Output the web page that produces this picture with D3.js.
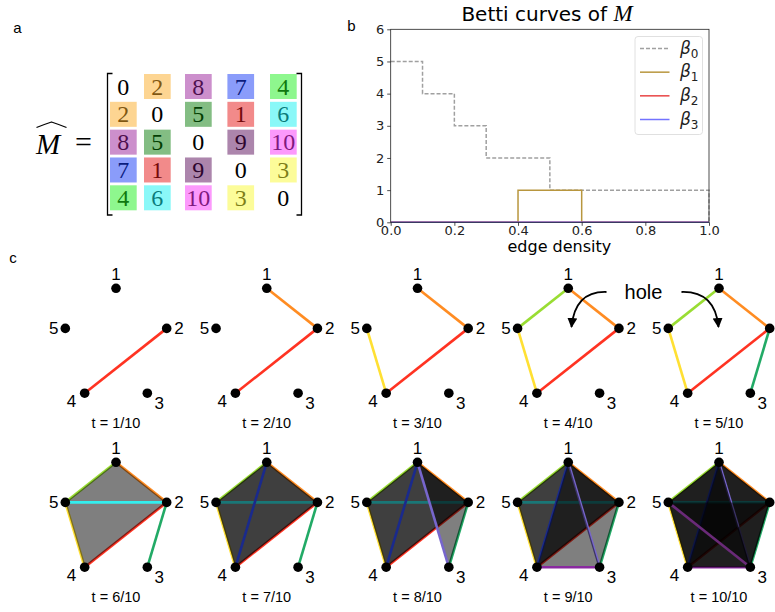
<!DOCTYPE html>
<html><head><meta charset="utf-8">
<script src="https://cdn.jsdelivr.net/npm/d3@7"></script>
<style>body{margin:0;background:#fff}</style>
</head><body>
<svg id="c" width="775" height="612" xmlns="http://www.w3.org/2000/svg"></svg>
<script>
// ---------- data ----------
const matrix = [
  [0, 2, 8, 7, 4],
  [2, 0, 5, 1, 6],
  [8, 5, 0, 9, 10],
  [7, 1, 9, 0, 3],
  [4, 6, 10, 3, 0]
];
const weights = [1,2,3,4,5,6,7,8,9,10];
const cellColors = ['#e51515','#fbab25','#f9f933','#1def1d','#077b07','#15f1f1','#1539f5','#991f99','#5a0b5a','#f933f9'];
const edgeColors = ['#ff3322','#ff8c22','#ffe033','#99dd33','#22aa66','#33eeee','#1a2a8c','#7766cc','#8a2aa0','#6a2a78'];

const density = [0,0.1,0.2,0.3,0.4,0.5,0.6,0.7,0.8,0.9,1.0];
const beta0 = [5,4,3,2,2,1,1,1,1,1,0];
const beta1 = [0,0,0,0,1,1,0,0,0,0,0];
const beta2 = [0,0,0,0,0,0,0,0,0,0,0];
const beta3 = [0,0,0,0,0,0,0,0,0,0,0];
const betaNames = ['0','1','2','3'];
const betaColors = ['#a0a0a0','#b8963e','#e84444','#7373ff'];
const xTicks = [0,0.2,0.4,0.6,0.8,1.0];
const yTicks = [0,1,2,3,4,5,6];

const nodeIds = [1,2,3,4,5];
const nodeAngles = [90,18,-54,-126,162];
const faces = [[1,2,5],[2,4,5],[1,2,4],[1,4,5],[1,2,3],[1,3,4],[1,3,5],[2,3,5],[3,4,5],[2,3,4]];
const faceBirth = [6,6,7,7,8,9,10,10,10,10];
const steps = [1,2,3,4,5,6,7,8,9,10];

const svg = d3.select('#c');
const SANS = 'Liberation Sans, Arial, Helvetica, sans-serif';
const DJ = 'DejaVu Sans, sans-serif';
const SERIF = 'Liberation Serif, Times New Roman, serif';

// panel letters
[['a',17.5,27],['b',351.5,25],['c',13,257]].forEach(([s,x,y])=>{
  svg.append('text').attr('x',x).attr('y',y).attr('text-anchor','middle')
    .attr('dominant-baseline','central').attr('font-family',SANS).attr('font-size',15).text(s);
});

// ---------- panel a: matrix ----------
const colX = d3.scaleOrdinal().domain([0,1,2,3,4]).range([123.3,157.3,198.3,240.7,283.3]);
const rowY = d3.scaleLinear().domain([0,4]).range([86.5,197.8]);
const colorOf = d3.scaleOrdinal().domain(weights).range(cellColors);
const ga = svg.append('g');
matrix.forEach((row,i)=>row.forEach((v,j)=>{
  ga.append('text').attr('x',colX(j)).attr('y',rowY(i)+8).attr('text-anchor','middle')
    .attr('font-family',SERIF).attr('font-size',24).attr('fill','#000').text(v);
  if(v>0){
    ga.append('rect').attr('x',colX(j)-13.3).attr('y',rowY(i)-12.5).attr('width',26.7).attr('height',25)
      .attr('fill',colorOf(v)).attr('fill-opacity',0.5);
  }
}));
// brackets
ga.append('path').attr('d','M112.5,73.5 H107.5 V215 H112.5').attr('fill','none').attr('stroke','#000').attr('stroke-width',1.3);
ga.append('path').attr('d','M296.5,73.5 H301.5 V215 H296.5').attr('fill','none').attr('stroke','#000').attr('stroke-width',1.3);
// M-hat =
ga.append('text').attr('x',48).attr('y',153.5).attr('text-anchor','middle').attr('font-family',SERIF)
  .attr('font-style','italic').attr('font-size',29).text('M');
ga.append('path').attr('d','M36.5,127.5 Q44,124.5 51.5,122 Q59,124.5 66.5,127.5').attr('fill','none').attr('stroke','#000').attr('stroke-width',1.2);
ga.append('text').attr('x',83.5).attr('y',152).attr('text-anchor','middle').attr('font-family',SERIF)
  .attr('font-size',30).text('=');

// ---------- panel b: Betti curves ----------
const x = d3.scaleLinear().domain([0,1]).range([390.7,709]);
const y = d3.scaleLinear().domain([0,6]).range([222.3,29.3]);
const gb = svg.append('g');
const line = d3.line().x((d,i)=>x(density[i])).y(d=>y(d)).curve(d3.curveStepAfter);
[beta0,beta1,beta2,beta3].forEach((b,k)=>{
  gb.append('path').attr('d',line(b)).attr('fill','none').attr('stroke',betaColors[k])
    .attr('stroke-width',1.5).attr('stroke-dasharray',k===0?'4,2':null);
});
const xAxis = gb.append('g').attr('transform',`translate(0,${y(0)})`)
  .call(d3.axisBottom(x).tickValues(xTicks).tickFormat(d3.format('.1f')).tickSize(3.5).tickPadding(0));
const yAxis = gb.append('g').attr('transform',`translate(${x(0)},0)`)
  .call(d3.axisLeft(y).tickValues(yTicks).tickFormat(d3.format('d')).tickSize(3.5).tickPadding(3));
[xAxis,yAxis].forEach(a=>{
  a.select('.domain').remove();
  a.selectAll('text').attr('font-family',DJ).attr('font-size',13).attr('fill','#222');
  a.selectAll('line').attr('stroke','#222').attr('stroke-width',0.8);
});
gb.append('rect').attr('x',x(0)).attr('y',y(6)).attr('width',x(1)-x(0)).attr('height',y(0)-y(6))
  .attr('fill','none').attr('stroke','#222').attr('stroke-width',0.8);
const tt = gb.append('text').attr('x',547).attr('y',21).attr('text-anchor','middle').attr('font-family',DJ).attr('font-size',20);
tt.append('tspan').text('Betti curves of ');
tt.append('tspan').attr('font-family',SERIF).attr('font-style','italic').attr('font-size',23).text('M');
gb.append('text').attr('x',x(0.53)).attr('y',252).attr('text-anchor','middle').attr('font-family',DJ).attr('font-size',16).text('edge density');
// legend
const lg = gb.append('g');
lg.append('rect').attr('x',635).attr('y',36.5).attr('width',67.5).attr('height',98).attr('rx',3)
  .attr('fill','#fff').attr('fill-opacity',0.8).attr('stroke','#d8d8d8').attr('stroke-width',0.8);
const ly = d3.scaleLinear().domain([0,3]).range([48.5,119.5]);
betaNames.forEach((n,k)=>{
  lg.append('line').attr('x1',640).attr('x2',669.5).attr('y1',ly(k)).attr('y2',ly(k))
    .attr('stroke',betaColors[k]).attr('stroke-width',1.5).attr('stroke-dasharray',k===0?'4,2':null);
  const t = lg.append('text').attr('x',680).attr('y',ly(k)+5).attr('font-family',DJ).attr('font-size',17).attr('fill','#222');
  t.append('tspan').attr('font-style','italic').text('β');
  t.append('tspan').attr('font-size',12).attr('dy',4).text(n);
});

// ---------- panel c: filtration ----------
const edges = [];
matrix.forEach((row,i)=>row.forEach((v,j)=>{ if(j>i) edges.push({a:i+1,b:j+1,w:v}); }));
edges.sort((p,q)=>p.w-q.w);
const edgeColor = d3.scaleOrdinal().domain(weights).range(edgeColors);
const panelX = d3.scalePoint().domain([0,1,2,3,4]).range([116,719]);
const panelY = d3.scalePoint().domain([0,1]).range([288.3,462.3]);
const labelOff = {1:[0,-14],2:[12.3,0],3:[12,10.5],4:[-13.3,8.7],5:[-11.5,0]};

steps.forEach((t,k)=>{
  const cx = panelX(k%5), top = panelY(Math.floor(k/5));
  const sx = d3.scaleLinear().domain([-1,1]).range([cx-53.3,cx+53.3]);
  const sy = d3.scaleLinear().domain([1,-1]).range([top,top+116]);
  const pos = id => { const a = nodeAngles[id-1]*Math.PI/180; return [sx(Math.cos(a)), sy(Math.sin(a))]; };
  const g = svg.append('g');
  for(let w=1; w<=t; w++){
    faces.forEach((f,i)=>{
      if(faceBirth[i]===w){
        g.append('path').attr('d',d3.line()(f.map(pos))+'Z').attr('fill','#000').attr('fill-opacity',0.5);
      }
    });
    edges.filter(e=>e.w===w).forEach(e=>{
      const p=pos(e.a), q=pos(e.b);
      g.append('line').attr('x1',p[0]).attr('y1',p[1]).attr('x2',q[0]).attr('y2',q[1])
        .attr('stroke',edgeColor(e.w)).attr('stroke-width',2.6);
    });
  }
  nodeIds.forEach(id=>{
    const p = pos(id);
    g.append('circle').attr('cx',p[0]).attr('cy',p[1]).attr('r',4.8).attr('fill','#000');
    g.append('text').attr('x',p[0]+labelOff[id][0]).attr('y',p[1]+labelOff[id][1])
      .attr('text-anchor','middle').attr('dominant-baseline','central')
      .attr('font-family',SANS).attr('font-size',17).text(id);
  });
  g.append('text').attr('x',cx).attr('y',top+135).attr('text-anchor','middle').attr('dominant-baseline','central')
    .attr('font-family',SANS).attr('font-size',14.5).text(`t = ${t}/10`);
});

// hole annotation
const defs = svg.append('defs');
defs.append('marker').attr('id','ah').attr('markerUnits','userSpaceOnUse').attr('markerWidth',12).attr('markerHeight',12)
  .attr('refX',9).attr('refY',5).attr('orient','auto').append('path').attr('d','M0,0 L10,5 L0,10 Z').attr('fill','#000');
svg.append('text').attr('x',643.5).attr('y',292).attr('text-anchor','middle').attr('dominant-baseline','central')
  .attr('font-family',SANS).attr('font-size',20).text('hole');
svg.append('path').attr('d','M606.5,292 Q575,291 571.5,327').attr('fill','none').attr('stroke','#000').attr('stroke-width',1.8).attr('marker-end','url(#ah)');
svg.append('path').attr('d','M681.5,292 Q715,291 718.5,327').attr('fill','none').attr('stroke','#000').attr('stroke-width',1.8).attr('marker-end','url(#ah)');
</script>
</body></html>
